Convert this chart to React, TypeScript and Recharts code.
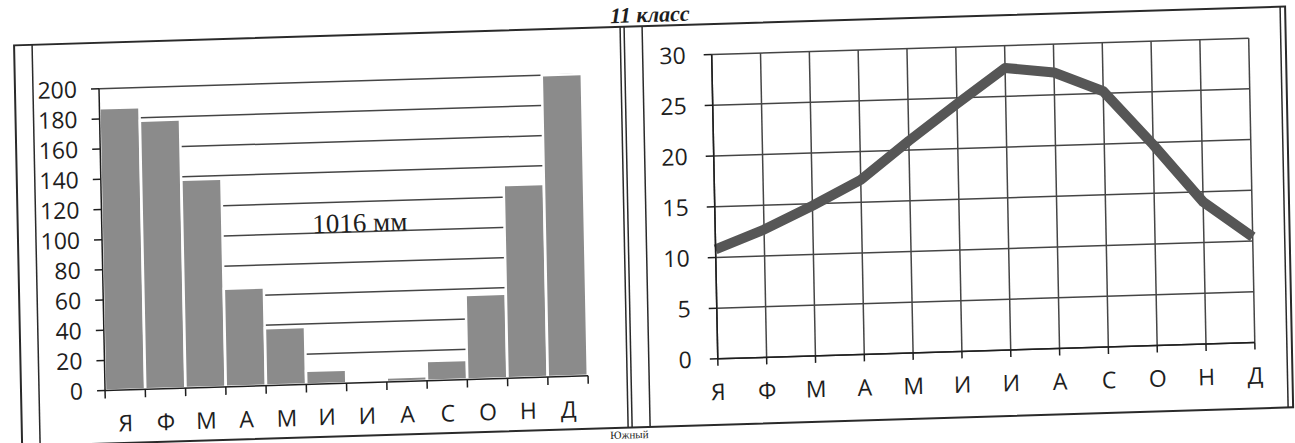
import { BarChart, Bar, LineChart, Line, XAxis, YAxis, CartesianGrid } from 'recharts'

const months = ['Я', 'Ф', 'М', 'А', 'М', 'И', 'И', 'А', 'С', 'О', 'Н', 'Д']
const precipitation = [187, 178, 138, 65, 38, 9, 1, 3, 13, 56, 128, 200]
const temperature = [10.8, 12.6, 14.8, 17.2, 20.9, 24.4, 27.8, 27.2, 25.2, 19.8, 14.0, 10.4]
const precipTicks = [0, 20, 40, 60, 80, 100, 120, 140, 160, 180, 200]
const tempTicks = [0, 5, 10, 15, 20, 25, 30]
const totalLabel = '1016 мм'
const gradeLabel = '11 класс'
const footLabel = 'Южный'

const rows = months.map((m, i) => ({ m, p: precipitation[i], t: temperature[i] }))

const INK = '#1e1e1e'
const GRID = '#454545'
const SANS = "'Open Sans', 'Noto Sans', sans-serif"
const SERIF = "'Liberation Serif', 'DejaVu Serif', serif"

// left plot: x 102..585, so one category is this wide
const BAND = (585 - 102) / months.length

// Excel puts the bar-chart ticks between categories, not under them
function BoundaryTick(props: any) {
  const { x, y, payload, index } = props
  const y0 = y - 25
  return (
    <g>
      <line x1={x - BAND / 2} x2={x - BAND / 2} y1={y0} y2={y0 + 8} stroke={INK} strokeWidth={1.5} />
      {index === months.length - 1 && (
        <line x1={x + BAND / 2} x2={x + BAND / 2} y1={y0} y2={y0 + 8} stroke={INK} strokeWidth={1.5} />
      )}
      <text x={x} y={y} dy="0.71em" textAnchor="middle" fontSize={23} fontFamily={SANS} fill={INK}>
        {payload.value}
      </text>
    </g>
  )
}

const axisTick = { fontSize: 23, fill: INK, fontFamily: SANS }
const axisLine = { stroke: INK, strokeWidth: 1.5 }

function Precipitation() {
  return (
    <BarChart
      width={620}
      height={443}
      data={rows}
      margin={{ top: 72, right: 35, bottom: 0, left: 0 }}
      barCategoryGap={0}
    >
      <CartesianGrid vertical={false} stroke={GRID} strokeWidth={1.5} />
      <XAxis
        dataKey="m"
        interval={0}
        height={69}
        tickSize={0}
        tickMargin={25}
        tickLine={false}
        axisLine={axisLine}
        tick={BoundaryTick}
      />
      <YAxis
        domain={[0, 200]}
        ticks={precipTicks}
        interval={0}
        width={102}
        tickSize={8}
        tickMargin={14}
        tickLine={axisLine}
        axisLine={axisLine}
        tick={axisTick}
      />
      <Bar dataKey="p" fill="#8b8b8b" stroke="#fff" strokeWidth={2.5} isAnimationActive={false} />
    </BarChart>
  )
}

function Temperature() {
  return (
    <LineChart
      width={640}
      height={443}
      data={rows}
      margin={{ top: 56.5, right: 28, bottom: 0, left: 0 }}
    >
      <CartesianGrid stroke={GRID} strokeWidth={1.5} />
      <XAxis
        dataKey="m"
        interval={0}
        height={82}
        tickSize={7}
        tickMargin={18}
        padding={{ left: 0, right: 0 }}
        tickLine={axisLine}
        axisLine={axisLine}
        tick={axisTick}
      />
      <YAxis
        domain={[0, 30]}
        ticks={tempTicks}
        interval={0}
        width={75}
        tickSize={8}
        tickMargin={18}
        tickLine={axisLine}
        axisLine={axisLine}
        tick={axisTick}
      />
      <Line
        type="linear"
        dataKey="t"
        stroke="#565656"
        strokeWidth={10}
        strokeLinejoin="round"
        dot={false}
        activeDot={false}
        isAnimationActive={false}
      />
    </LineChart>
  )
}

export default function App() {
  const frame = { stroke: '#2a2a2a', strokeWidth: 2 }
  return (
    <div
      style={{
        position: 'absolute',
        left: 0,
        top: 0,
        width: 1295,
        height: 443,
        background: '#fff',
        overflow: 'hidden',
      }}
    >
      {/* the scan is slightly tilted, so the whole sheet is too */}
      <div
        style={{
          position: 'absolute',
          left: 0,
          top: 0,
          width: 1295,
          height: 443,
          transformOrigin: '647.5px 221.5px',
          transform: 'skewY(-1.75deg) skewX(1.15deg)',
        }}
      >
        <div style={{ position: 'absolute', left: 0, top: 0 }}>
          <Precipitation />
        </div>
        <div style={{ position: 'absolute', left: 640, top: 0 }}>
          <Temperature />
        </div>
        <svg
          width={1295}
          height={443}
          style={{ position: 'absolute', left: 0, top: 0, pointerEvents: 'none' }}
        >
          <rect x={18} y={26} width={1271} height={401} fill="none" {...frame} />
          <line x1={36} x2={36} y1={26} y2={427} {...frame} strokeWidth={1.5} />
          <line x1={624} x2={624} y1={26} y2={427} {...frame} strokeWidth={1.5} />
          <line x1={628} x2={628} y1={26} y2={427} {...frame} strokeWidth={1.5} />
          <line x1={646} x2={646} y1={26} y2={427} {...frame} strokeWidth={1.5} />
          <line x1={1284} x2={1284} y1={26} y2={427} {...frame} strokeWidth={1.5} />
          <text
            x={654}
            y={22}
            textAnchor="middle"
            fontFamily={SERIF}
            fontStyle="italic"
            fontWeight="bold"
            fontSize={22}
            fill={INK}
          >
            {gradeLabel}
          </text>
          <text x={360} y={223} textAnchor="middle" fontFamily={SERIF} fontSize={27} fill={INK}>
            {totalLabel}
          </text>
          <text x={606} y={438} fontFamily={SERIF} fontSize={11} fill={INK}>
            {footLabel}
          </text>
        </svg>
      </div>
    </div>
  )
}
